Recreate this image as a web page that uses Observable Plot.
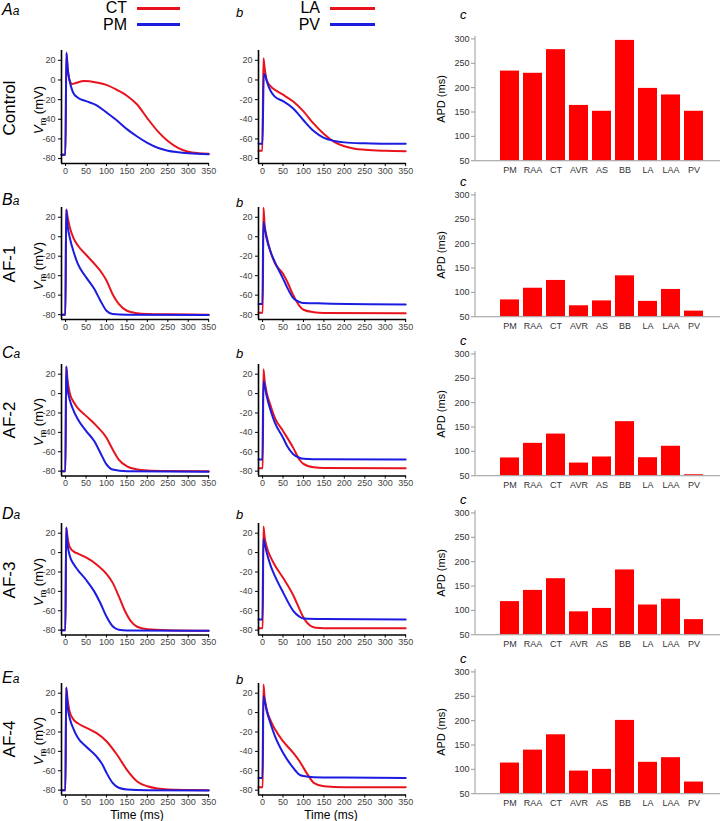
<!DOCTYPE html>
<html><head><meta charset="utf-8">
<script src="https://cdn.jsdelivr.net/npm/d3@7"></script>
<script src="https://cdn.jsdelivr.net/npm/@observablehq/plot@0.6"></script>
<style>
body{margin:0;background:#fff;font-family:"Liberation Sans",Arial,sans-serif;}
#fig{position:relative;width:720px;height:821px;overflow:hidden;background:#fff;}
.t{position:absolute;white-space:nowrap;color:#000;line-height:1;}
.c{transform:translate(-50%,-50%);}
.r{transform:translate(-50%,-50%) rotate(-90deg);}
.leg{position:absolute;height:3px;}
svg{position:absolute;}
</style></head><body><div id="fig"></div>
<script>
// ---------------- data ----------------
const ROW_NAMES = ["Control","AF-1","AF-2","AF-3","AF-4"];
const ROW_LETTERS = ["A","B","C","D","E"];
const SITES = ["PM","RAA","CT","AVR","AS","BB","LA","LAA","PV"];
const APD_CONTROL = [234,229.5,278,163.5,151.5,297,198.5,185,151.5];
const APD_AF1 = [84.5,108.5,124.5,72.5,82.5,134,81.5,106,61.5];
const APD_AF2 = [86.5,116.5,135.5,76,88.5,161,87,110.5,52];
const APD_AF3 = [118,141,165,97,104,183,111,123,81];
const APD_AF4 = [113,139.5,171,96.5,100,200.5,114.5,124,74];
const T_TICKS = [0,50,100,150,200,250,300,350];
const V_TICKS = [-80,-60,-40,-20,0,20];
const APD_TICKS = [50,100,150,200,250,300];

// action potentials [time ms, Vm mV]
const CT_CONTROL = [[-10,-76],[-0.5,-76],[2,27],[5,12],[10,-1],[16,-4],[25,-3],[45,-1],[75,-2.5],[100,-5],[125,-10],[150,-16],[175,-25],[200,-39],[225,-52],[250,-62],[275,-69],[300,-73],[325,-74.5],[350,-75]];
const PM_CONTROL = [[-10,-76],[-0.5,-76],[2,28],[5,12],[10,-1],[15,-9],[20,-14],[30,-18],[50,-21.5],[75,-25.5],[100,-33],[125,-41],[150,-50],[175,-57.5],[200,-64],[225,-69],[250,-72],[275,-73.5],[300,-74.5],[350,-75.5]];
const LA_CONTROL = [[-10,-72],[-0.5,-72],[2,22],[5,12],[10,0],[20,-6.5],[30,-10],[50,-15],[75,-22],[100,-32],[125,-44.5],[150,-55],[175,-63],[200,-67.5],[225,-70],[250,-71],[300,-72],[350,-72.5]];
const PV_CONTROL = [[-10,-65],[-0.5,-65],[3,6],[6,5],[10,-1],[20,-11.5],[30,-17],[50,-21.5],[75,-29],[100,-41],[125,-52],[150,-59],[175,-62],[200,-63.5],[250,-64.5],[300,-65],[350,-65]];

const CT_AF1 = [[-10,-80],[-0.5,-80],[1.5,28],[5,20],[10,10],[20,-2],[30,-9],[50,-18.5],[75,-30],[90,-38],[100,-45],[115,-59],[130,-69],[150,-76],[175,-78.5],[200,-79.3],[250,-79.7],[350,-80]];
const PM_AF1 = [[-10,-80],[-0.5,-80],[1.5,28],[5,11],[10,-0.5],[20,-16],[30,-28],[50,-41.5],[70,-53.5],[85,-65.5],[100,-76],[115,-79.3],[150,-80],[350,-80.5]];
const LA_AF1 = [[-10,-78],[0.5,-78],[2,30],[5,12],[10,0],[20,-16],[30,-27],[50,-38],[60,-46],[75,-60],[90,-71],[100,-75],[125,-77.5],[150,-78.2],[350,-78.5]];
const PV_AF1 = [[-10,-69],[-0.5,-69],[2,15],[5,9],[10,-2],[20,-16],[30,-26],[50,-43],[60,-52],[75,-63],[90,-67],[100,-68],[150,-68.5],[350,-69.5]];

const CT_AF2 = [[-10,-80],[-0.5,-80],[1.5,28],[5,13],[10,1],[20,-9],[30,-15],[50,-23],[75,-33],[100,-45.5],[115,-57.5],[130,-68],[150,-75],[175,-78.3],[200,-79.3],[250,-79.8],[350,-80]];
const PM_AF2 = [[-10,-80],[-0.5,-80],[1.5,28],[5,4.5],[10,-6],[20,-18],[30,-26.5],[50,-38.5],[70,-49],[85,-61],[100,-73],[115,-78.3],[150,-80],[350,-80.5]];
const LA_AF2 = [[-10,-77],[0.5,-77],[2,25],[5,13],[10,1],[20,-13],[30,-25],[50,-38.5],[75,-56],[90,-68],[100,-72.5],[125,-76],[150,-76.8],[350,-77]];
const PV_AF2 = [[-10,-68],[-0.5,-68],[2,13],[5,8],[10,-2.5],[20,-18],[30,-30],[50,-45.5],[60,-54],[75,-62.5],[90,-66.2],[100,-67.2],[150,-67.8],[350,-68]];

const CT_AF3 = [[-10,-80],[-0.5,-80],[1.5,26],[5,15],[10,6],[20,1],[30,-1],[50,-5],[75,-12],[100,-22],[115,-31],[130,-45],[145,-60],[160,-71],[175,-76.5],[200,-79],[250,-80],[350,-80.5]];
const PM_AF3 = [[-10,-80],[-0.5,-80],[1.5,26],[5,8],[10,-3],[20,-12],[30,-18],[50,-28],[70,-40],[85,-52],[100,-66],[115,-76],[130,-79.5],[150,-80.3],[350,-80.5]];
const LA_AF3 = [[-10,-78],[0.5,-78],[2,27],[5,16],[10,6],[20,-5],[30,-13],[50,-26],[75,-44],[90,-58],[100,-67],[115,-75],[130,-77.5],[150,-78],[350,-78]];
const PV_AF3 = [[-10,-69],[-0.5,-69],[2,14],[5,9],[10,0],[20,-14],[30,-24],[50,-41],[75,-60],[90,-66],[100,-68],[150,-68.5],[350,-69]];

const CT_AF4 = [[-10,-80],[-0.5,-80],[1.5,26],[5,13],[10,1],[20,-7.5],[30,-11],[50,-15.5],[75,-21],[100,-29.5],[125,-43],[150,-59],[175,-71],[200,-76],[225,-78.3],[250,-79.3],[300,-79.8],[350,-80]];
const PM_AF4 = [[-10,-80],[-0.5,-80],[1.5,26],[5,6],[10,-5.5],[20,-17.5],[30,-26],[50,-35],[75,-45],[90,-53.5],[100,-62],[115,-72.5],[130,-77.5],[150,-79.3],[200,-80],[350,-80.3]];
const LA_AF4 = [[-10,-77],[0.5,-77],[2,29],[5,15.5],[10,3.5],[20,-8.5],[30,-17],[50,-29.5],[75,-41.5],[90,-50],[100,-57],[115,-67],[125,-72.5],[150,-76],[200,-77],[350,-77]];
const PV_AF4 = [[-10,-67.5],[-0.5,-67.5],[2,17],[5,12],[10,2],[20,-12],[30,-24],[50,-41.5],[75,-57],[90,-64],[100,-65.5],[125,-66.6],[200,-67],[350,-67.5]];

const RIGHT_ATRIUM = [[CT_CONTROL,PM_CONTROL],[CT_AF1,PM_AF1],[CT_AF2,PM_AF2],[CT_AF3,PM_AF3],[CT_AF4,PM_AF4]];
const LEFT_ATRIUM = [[LA_CONTROL,PV_CONTROL],[LA_AF1,PV_AF1],[LA_AF2,PV_AF2],[LA_AF3,PV_AF3],[LA_AF4,PV_AF4]];
const APD = [APD_CONTROL,APD_AF1,APD_AF2,APD_AF3,APD_AF4];

// ---------------- layout / style ----------------
const RED = "#e8131c", BLUE = "#1c1ce0", BAR = "#ff0000";
const X_DOMAIN = [-10, 352];
const V_DOMAIN = [-85, 30];
const APD_DOMAIN = [50, 305];
const A_X = [61, 209], B_X = [257.5, 405.5];
const ROW_Y = [[50,163],[206.5,318.5],[363.5,475],[523,634.5],[682.5,794]];
const BAR_Y300 = [38.3,194.3,353.3,512.5,671.7];
const FONT = "Liberation Sans, Arial, sans-serif";
const fig = document.getElementById("fig");

function text(html, x, y, cls, css) {
  const d = document.createElement("div");
  d.className = "t " + cls;
  d.style.left = x + "px"; d.style.top = y + "px";
  Object.assign(d.style, css || {});
  d.innerHTML = html;
  fig.appendChild(d);
}
function legLine(x0, x1, y, color) {
  const d = document.createElement("div");
  d.className = "leg";
  d.style.left = x0 + "px"; d.style.width = (x1 - x0) + "px";
  d.style.top = (y - 1.5) + "px"; d.style.background = color;
  fig.appendChild(d);
}

function tracePanel(xr, yr, pair) {
  const pad = {l: 30, r: 12, t: 6, b: 16};
  const left = xr[0] - pad.l, top = yr[0] - pad.t;
  const svg = Plot.plot({
    width: xr[1] - xr[0] + pad.l + pad.r,
    height: yr[1] - yr[0] + pad.t + pad.b,
    marginLeft: pad.l, marginRight: pad.r, marginTop: pad.t, marginBottom: pad.b,
    style: {background: "transparent", fontFamily: FONT, fontSize: "9px", overflow: "visible"},
    x: {domain: X_DOMAIN},
    y: {domain: V_DOMAIN},
    marks: [
      Plot.axisX({ticks: T_TICKS, tickSize: 3, tickPadding: 1, fill: "#444", stroke: "#000", label: null, tickFormat: d => String(d), fontSize: 9}),
      Plot.axisY({ticks: V_TICKS, tickSize: 3, tickPadding: 3, fill: "#444", stroke: "#000", label: null, tickFormat: d => String(d), fontSize: 9}),
      Plot.line(pair[0], {x: d => d[0], y: d => d[1], stroke: RED, strokeWidth: 2, curve: "monotone-x"}),
      Plot.line(pair[1], {x: d => d[0], y: d => d[1], stroke: BLUE, strokeWidth: 2, curve: "monotone-x"}),
      Plot.ruleX([X_DOMAIN[0]], {stroke: "#000", strokeWidth: 1.6}),
      Plot.ruleY([V_DOMAIN[0]], {stroke: "#000", strokeWidth: 1.6})
    ]
  });
  svg.style.left = left + "px"; svg.style.top = top + "px";
  fig.appendChild(svg);
}

function barPanel(y300, values) {
  const k = 121.8 / 250;
  const frame = {x0: 475, x1: 720, y0: y300 - (APD_DOMAIN[1] - 300) * k, y1: y300 + 121.8};
  const pad = {l: 24, r: 0, t: 4, b: 18};
  const left = frame.x0 - pad.l, top = frame.y0 - pad.t;
  const data = SITES.map((s, i) => ({site: s, apd: values[i]}));
  const yAxisLine = (index, scales, vals, dim) => {
    const l = document.createElementNS("http://www.w3.org/2000/svg", "line");
    l.setAttribute("x1", dim.marginLeft); l.setAttribute("x2", dim.marginLeft);
    l.setAttribute("y1", dim.marginTop); l.setAttribute("y2", dim.height - dim.marginBottom);
    l.setAttribute("stroke", "#999"); l.setAttribute("stroke-width", 1);
    return l;
  };
  const svg = Plot.plot({
    width: frame.x1 - frame.x0 + pad.l + pad.r,
    height: frame.y1 - frame.y0 + pad.t + pad.b,
    marginLeft: pad.l, marginRight: pad.r, marginTop: pad.t, marginBottom: pad.b,
    style: {background: "transparent", fontFamily: FONT, fontSize: "9px", overflow: "visible"},
    x: {type: "band", domain: SITES, range: [498.3 - left, 704 - left], paddingInner: 0.17, paddingOuter: 0},
    y: {domain: APD_DOMAIN},
    marks: [
      Plot.barY(data, {x: "site", y1: () => APD_DOMAIN[0], y2: "apd", fill: BAR}),
      Plot.axisX({tickSize: 0, tickPadding: 6, fill: "#333", label: null, fontSize: 9}),
      Plot.axisY({ticks: APD_TICKS, tickSize: 4, tickPadding: 2, fill: "#333", stroke: "#999", label: null, tickFormat: d => String(d), fontSize: 9}),
      Plot.ruleY([APD_DOMAIN[0]], {stroke: "#999", strokeWidth: 1}),
      yAxisLine
    ]
  });
  svg.style.left = left + "px"; svg.style.top = top + "px";
  fig.appendChild(svg);
  return frame;
}

// ---------------- build ----------------
const LETTER_Y = [10, 200, 353, 514, 678];
const B_LETTER_Y = [12, 202, 353, 514, 679];
const C_LETTER_Y = [14, 181, 340, 499, 658];

ROW_NAMES.forEach((name, i) => {
  const yr = ROW_Y[i];
  const cy = (yr[0] + yr[1]) / 2;
  tracePanel(A_X, yr, RIGHT_ATRIUM[i]);
  tracePanel(B_X, yr, LEFT_ATRIUM[i]);
  const bf = barPanel(BAR_Y300[i], APD[i]);
  text(name, 9, cy + 1, "r", {fontSize: "17px"});
  text('<i>V</i><span style="font-size:9px;position:relative;top:3px">m</span> (mV)', 38, cy + 3, "r", {fontSize: "13px"});
  text('<i style="font-size:16px">' + ROW_LETTERS[i] + '</i><i style="font-size:12px">a</i>', 2, LETTER_Y[i], "", {transform: "translateY(-50%)"});
  text('<i>b</i>', 236, B_LETTER_Y[i], "", {fontSize: "13px", transform: "translateY(-50%)"});
  text('<i>c</i>', 460, C_LETTER_Y[i], "", {fontSize: "13px", transform: "translateY(-50%)"});
  text("APD (ms)", 441, (bf.y0 + bf.y1) / 2 + 1, "r", {fontSize: "11px"});
});

// legends
text("CT", 127, 7.5, "", {fontSize: "16px", transform: "translate(-100%,-50%)"});
text("PM", 127, 24.5, "", {fontSize: "16px", transform: "translate(-100%,-50%)"});
legLine(137, 180, 8, RED); legLine(137, 180, 24, BLUE);
text("LA", 320, 7.5, "", {fontSize: "16px", transform: "translate(-100%,-50%)"});
text("PV", 320, 24.5, "", {fontSize: "16px", transform: "translate(-100%,-50%)"});
legLine(330, 375, 8, RED); legLine(330, 375, 24, BLUE);

// x titles
text("Time (ms)", 137, 815, "c", {fontSize: "12px"});
text("Time (ms)", 331, 815, "c", {fontSize: "12px"});
</script></body></html>
